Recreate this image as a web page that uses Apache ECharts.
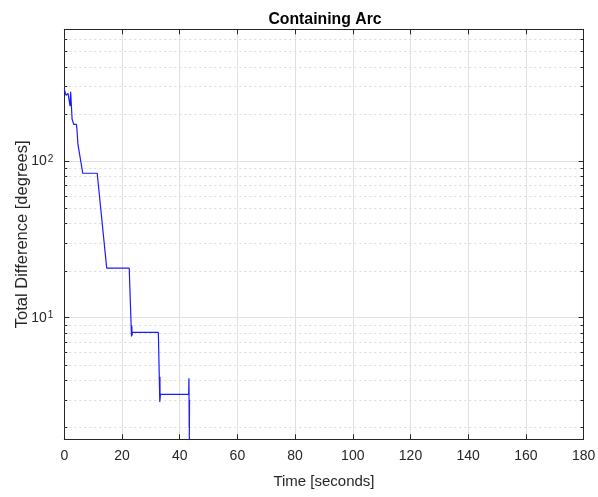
<!DOCTYPE html>
<html>
<head>
<meta charset="utf-8">
<script src="https://cdn.jsdelivr.net/npm/echarts@6/dist/echarts.min.js"></script>
<style>
html,body{margin:0;padding:0;background:#fff;}
#chart{width:598px;height:497px;}
</style>
</head>
<body>
<div id="chart"></div>
<script>
// ---- data ----
var timeSec = [0, 0.6, 1.3, 2.0, 2.2, 2.7, 3.3, 4.2, 4.4, 4.6, 4.75, 6.4, 11.4, 14.7, 22.5, 23.3, 23.4, 23.5, 23.6, 32.6, 33.1, 33.15, 33.2, 33.3, 43.1, 43.2, 43.3, 43.4, 43.2];
var totalDiff = [287, 262, 270, 224, 276, 185, 171, 171, 158, 138, 127, 83.5, 83.5, 20.7, 20.7, 7.6, 8.9, 7.7, 8.1, 8.05, 2.9, 4.2, 3.0, 3.24, 3.24, 4.1, 2.0, 3.0, 0.5];
var xTicks = [0, 20, 40, 60, 80, 100, 120, 140, 160, 180];
var yMajorTicks = [10, 100];
var yMinorTicks = [2, 3, 4, 5, 6, 7, 8, 9, 20, 30, 40, 50, 60, 70, 80, 90, 200, 300, 400, 500, 600];
var xMin = 0, xMax = 180, xStep = 20;
var yMin = 1.675, yMax = 692;

var FONT = "'Liberation Sans', Arial, Helvetica, sans-serif";
var AX = '#262626';
var lineData = timeSec.map(function (t, i) { return [t, totalDiff[i]]; });
var minorData = yMinorTicks.map(function (v) { return [xMin, v]; });

function yLabel(value) {
  for (var i = 0; i < yMajorTicks.length; i++) {
    if (Math.abs(value - yMajorTicks[i]) < 1e-6 * yMajorTicks[i]) {
      var e = Math.round(Math.log10(value));
      return '{b|10}{s|' + e + '}';
    }
  }
  return '';
}

var chart = echarts.init(document.getElementById('chart'), null, {renderer: 'canvas'});
chart.setOption({
  animation: false,
  backgroundColor: '#fff',
  title: {
    text: 'Containing Arc',
    left: 320, top: 7, textAlign: 'center',
    textStyle: {fontFamily: FONT, fontSize: 15.8, fontWeight: 'bold', color: '#000'}
  },
  grid: {left: 64.3, right: 14.4, top: 29.3, bottom: 57.7, containLabel: false, outerBoundsMode: 'none'},
  xAxis: [{
    type: 'value', min: xMin, max: xMax, interval: xStep,
    name: 'Time [seconds]', nameLocation: 'middle', nameGap: 35, nameMoveOverlap: false,
    nameTextStyle: {fontFamily: FONT, fontSize: 15, color: AX},
    axisLine: {show: true, onZero: false, lineStyle: {color: AX, width: 1}},
    axisTick: {show: true, inside: true, length: 5, lineStyle: {color: AX}},
    axisLabel: {fontFamily: FONT, fontSize: 14, color: AX, margin: 10,
      formatter: function (v) { return xTicks.indexOf(v) >= 0 ? String(v) : ''; }},
    splitLine: {show: true, lineStyle: {color: '#e0e0e0', width: 1}}
  }, {
    type: 'value', position: 'top', min: xMin, max: xMax, interval: xStep,
    axisLine: {show: true, onZero: false, lineStyle: {color: AX, width: 1}},
    axisTick: {show: true, inside: true, length: 5, lineStyle: {color: AX}},
    axisLabel: {show: false}, splitLine: {show: false}
  }],
  yAxis: [{
    type: 'log', logBase: 10, min: yMin, max: yMax,
    name: 'Total Difference [degrees]', nameLocation: 'middle', nameGap: 33, nameMoveOverlap: false,
    nameTextStyle: {fontFamily: FONT, fontSize: 16.5, color: AX},
    axisLine: {show: true, onZero: false, lineStyle: {color: AX, width: 1}},
    axisTick: {show: true, inside: true, length: 5, lineStyle: {color: AX}},
    axisLabel: {fontFamily: FONT, color: AX, margin: 11, formatter: yLabel,
      showMinLabel: false, showMaxLabel: false,
      rich: {
        b: {fontFamily: FONT, fontSize: 14, color: AX},
        s: {fontFamily: FONT, fontSize: 10, color: AX, verticalAlign: 'top', padding: [0, 0, 0, 1]}
      }},
    splitLine: {show: true, lineStyle: {color: '#e0e0e0', width: 1}}
  }, {
    type: 'log', logBase: 10, min: yMin, max: yMax, position: 'right',
    axisLine: {show: true, onZero: false, lineStyle: {color: AX, width: 1}},
    axisTick: {show: true, inside: true, length: 5, lineStyle: {color: AX}},
    axisLabel: {show: false}, splitLine: {show: false}
  }],
  series: [{
    type: 'custom', xAxisIndex: 0, yAxisIndex: 0, silent: true, z: 1,
    data: minorData,
    renderItem: function (params, api) {
      var v = api.value(1);
      var p0 = api.coord([xMin, v]);
      var p1 = api.coord([xMax, v]);
      var y = Math.round(p0[1]) + 0.5;
      return {type: 'group', children: [
        {type: 'line', shape: {x1: p0[0], y1: y, x2: p1[0], y2: y},
          style: {stroke: '#dadada', lineWidth: 1, lineDash: [2, 3]}},
        {type: 'line', shape: {x1: p0[0], y1: y, x2: p0[0] + 3, y2: y},
          style: {stroke: AX, lineWidth: 1}},
        {type: 'line', shape: {x1: p1[0] - 3, y1: y, x2: p1[0], y2: y},
          style: {stroke: AX, lineWidth: 1}}
      ]};
    }
  }, {
    type: 'line', xAxisIndex: 0, yAxisIndex: 0, data: lineData,
    showSymbol: false, symbol: 'none', clip: true, z: 3,
    lineStyle: {color: '#1a1aff', width: 1.2}
  }]
});
</script>
</body>
</html>
